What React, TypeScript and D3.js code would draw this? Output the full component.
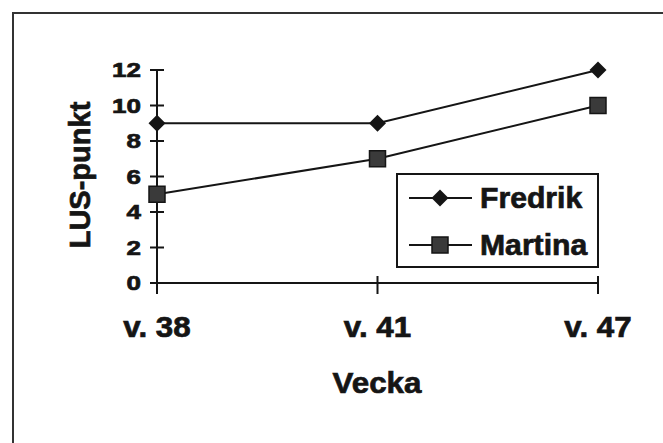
import React from "react";
import * as d3 from "d3";

const categories = ["v. 38", "v. 41", "v. 47"];
const fredrik = [9, 9, 12];
const martina = [5, 7, 10];
const yTicks = [0, 2, 4, 6, 8, 10, 12];
const seriesNames = ["Fredrik", "Martina"];

const W = 663;
const H = 443;
const FONT = "'Liberation Sans', Arial, sans-serif";
const INK = "#151515";

export default function App() {
  const x = d3.scalePoint<string>().domain(categories).range([157, 598]);
  const y = d3.scaleLinear().domain([0, 12]).range([283, 70]);
  const line = d3
    .line<number>()
    .x((_, i) => x(categories[i]) as number)
    .y((d) => y(d));

  const diamond = (cx: number, cy: number, r: number) =>
    `M${cx},${cy - r}L${cx + r},${cy}L${cx},${cy + r}L${cx - r},${cy}Z`;

  const textProps = {
    fontFamily: FONT,
    fontWeight: "bold" as const,
    fill: INK,
    stroke: INK,
    strokeWidth: 0.7,
  };

  return (
    <svg
      width={W}
      height={H}
      style={{ position: "absolute", left: 0, top: 0, background: "#fff" }}
    >
      <rect x={0} y={0} width={W} height={H} fill="#fff" />
      {/* outer frame */}
      <path d={`M13,${H + 2}V13H${W + 2}`} fill="none" stroke="#333" strokeWidth={2} />

      {/* y axis */}
      <line x1={x(categories[0])} x2={x(categories[0])} y1={y(12)} y2={y(0)} stroke={INK} strokeWidth={2} />
      {yTicks.map((t) => (
        <g key={t}>
          <line x1={150} x2={164} y1={y(t)} y2={y(t)} stroke={INK} strokeWidth={2} />
          <text
            transform={`translate(141,${y(t) + 7}) scale(1.3,1)`}
            textAnchor="end"
            fontSize={20}
            {...textProps}
          >
            {t}
          </text>
        </g>
      ))}

      {/* x axis */}
      <line x1={x(categories[0])} x2={x(categories[2])} y1={y(0)} y2={y(0)} stroke={INK} strokeWidth={2} />
      {categories.map((c) => (
        <g key={c}>
          <line x1={x(c)} x2={x(c)} y1={276} y2={294} stroke={INK} strokeWidth={2} />
          <text
            transform={`translate(${x(c)},337) scale(1.08,1)`}
            textAnchor="middle"
            fontSize={29}
            {...textProps}
          >
            {c}
          </text>
        </g>
      ))}

      {/* axis titles */}
      <text transform="translate(377,393) scale(1.08,1)" textAnchor="middle" fontSize={29} {...textProps}>
        Vecka
      </text>
      <text
        transform={`translate(90,175) rotate(-90)`}
        textAnchor="middle"
        fontSize={29}
        {...textProps}
      >
        LUS-punkt
      </text>

      {/* series */}
      <path d={line(fredrik) as string} fill="none" stroke={INK} strokeWidth={2} />
      <path d={line(martina) as string} fill="none" stroke={INK} strokeWidth={2} />
      {fredrik.map((v, i) => (
        <path key={"f" + i} d={diamond(x(categories[i]) as number, y(v), 8.5)} fill={INK} />
      ))}
      {martina.map((v, i) => (
        <rect
          key={"m" + i}
          x={(x(categories[i]) as number) - 8}
          y={y(v) - 8}
          width={16}
          height={16}
          fill="#3a3a3a"
          stroke={INK}
          strokeWidth={1.5}
        />
      ))}

      {/* legend */}
      <rect x={397} y={174} width={201} height={93} fill="#fff" stroke={INK} strokeWidth={2} />
      {seriesNames.map((name, i) => {
        const ly = 198 + i * 47;
        return (
          <g key={name}>
            <line x1={409} x2={472} y1={ly} y2={ly} stroke={INK} strokeWidth={2} />
            {i === 0 ? (
              <path d={diamond(440, ly, 8.5)} fill={INK} />
            ) : (
              <rect x={432} y={ly - 8} width={16} height={16} fill="#3a3a3a" stroke={INK} strokeWidth={1.5} />
            )}
            <text transform={`translate(480,${ly + 10}) scale(1.04,1)`} fontSize={29} {...textProps}>
              {name}
            </text>
          </g>
        );
      })}
    </svg>
  );
}
